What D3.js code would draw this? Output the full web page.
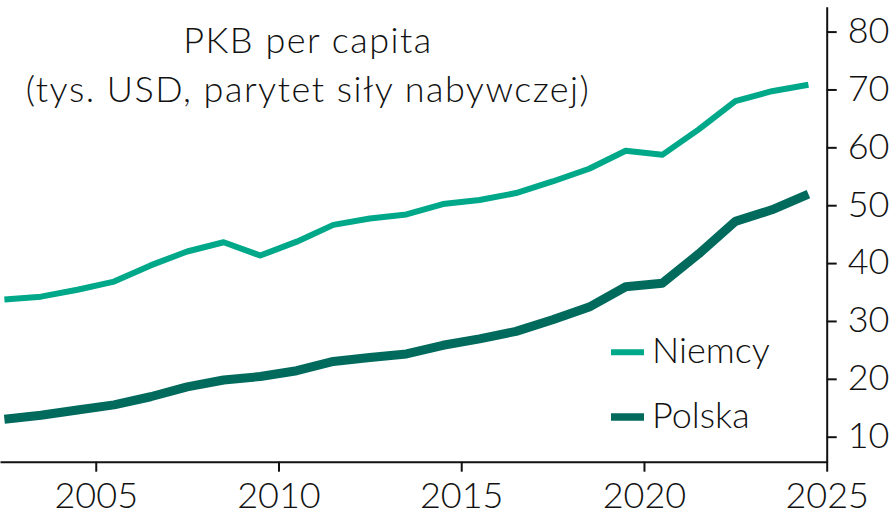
<!DOCTYPE html>
<html>
<head>
<meta charset="utf-8">
<script src="https://cdn.jsdelivr.net/npm/d3@7"></script>
<style>
  body { margin: 0; background: #fff; }
  svg text { font-family: Lato, "Open Sans", sans-serif; font-weight: 300; fill: #111; }
</style>
</head>
<body>
<div id="chart"></div>
<script>
// chart size
var svgWidth = 896;
var svgHeight = 515;

// data (GDP per capita, thousand USD PPP)
var years = [2002, 2003, 2004, 2005, 2006, 2007, 2008, 2009, 2010, 2011, 2012, 2013,
  2014, 2015, 2016, 2017, 2018, 2019, 2020, 2021, 2022, 2023, 2024];
var niemcy = [33.7, 34.2, 35.4, 36.8, 39.6, 42.0, 43.6, 41.3, 43.7, 46.6, 47.7, 48.4,
  50.2, 50.9, 52.1, 54.1, 56.3, 59.4, 58.7, 63.1, 68.0, 69.7, 70.8];
var polska = [13.0, 13.7, 14.6, 15.5, 16.9, 18.6, 19.8, 20.4, 21.4, 23.0, 23.7, 24.3,
  25.8, 26.9, 28.2, 30.2, 32.4, 35.9, 36.5, 41.6, 47.2, 49.2, 51.9];
var xTicks = [2005, 2010, 2015, 2020, 2025];
var yTicks = [10, 20, 30, 40, 50, 60, 70, 80];
var titleLines = ["PKB per capita", "(tys. USD, parytet siły nabywczej)"];
var seriesNames = ["Niemcy", "Polska"];

var colors = { Niemcy: "#00a88a", Polska: "#006b5d" };
var widths = { Niemcy: 6, Polska: 9 };

// plot area
var plotLeft = 0, plotRight = 826.7, plotTop = 6.7, plotBottom = 461.7;

var svg = d3.select("#chart")
  .append("svg")
  .attr("width", svgWidth)
  .attr("height", svgHeight);

// scales: points are placed at mid-year
var x = d3.scaleLinear()
  .domain([2002.38, 2025])
  .range([plotLeft, plotRight]);

var y = d3.scaleLinear()
  .domain([5.68, 84.3])
  .range([plotBottom, plotTop]);

// axes
var bottomAxis = d3.axisBottom(x)
  .tickValues(xTicks)
  .tickFormat(d3.format("d"))
  .tickSize(10)
  .tickSizeOuter(0)
  .tickPadding(10);

var rightAxis = d3.axisRight(y)
  .tickValues(yTicks)
  .tickSize(10)
  .tickSizeOuter(0)
  .tickPadding(11);

var gx = svg.append("g")
  .attr("transform", `translate(0, ${plotBottom})`)
  .call(bottomAxis);
gx.select(".domain").attr("stroke", "#111").attr("stroke-width", 2);
gx.selectAll(".tick line").attr("stroke", "#111").attr("stroke-width", 2);
gx.selectAll(".tick text").style("font-size", "36px").attr("dy", "0.72em");

var gy = svg.append("g")
  .attr("transform", `translate(${plotRight}, 0)`)
  .call(rightAxis);
gy.select(".domain").attr("stroke", "#111").attr("stroke-width", 2);
gy.selectAll(".tick line").attr("stroke", "#111").attr("stroke-width", 2);
gy.selectAll(".tick text").style("font-size", "36px").attr("dy", "0.3em");

// lines
var line = d3.line()
  .x((d, i) => x(years[i] + 0.5))
  .y(d => y(d));

var seriesData = { Niemcy: niemcy, Polska: polska };

seriesNames.forEach(function(name) {
  svg.append("path")
    .datum(seriesData[name])
    .attr("fill", "none")
    .attr("stroke", colors[name])
    .attr("stroke-width", widths[name])
    .attr("stroke-linejoin", "round")
    .attr("d", line);
});

// title
svg.selectAll(".title")
  .data(titleLines)
  .enter()
  .append("text")
  .attr("class", "title")
  .attr("x", 308)
  .attr("y", (d, i) => 53 + i * 49)
  .attr("text-anchor", "middle")
  .style("font-size", "36px")
  .style("letter-spacing", "1.5px")
  .text(d => d);

// legend
var legend = svg.selectAll(".legend")
  .data(seriesNames)
  .enter()
  .append("g")
  .attr("class", "legend")
  .attr("transform", (d, i) => `translate(611, ${352.3 + i * 64.7})`);

legend.append("line")
  .attr("x1", 0)
  .attr("x2", 33)
  .attr("stroke", d => colors[d])
  .attr("stroke-width", d => d == "Niemcy" ? 6 : 7.5);

legend.append("text")
  .attr("x", 41)
  .attr("y", 10.5)
  .style("font-size", "36px")
  .text(d => d);
</script>
</body>
</html>
